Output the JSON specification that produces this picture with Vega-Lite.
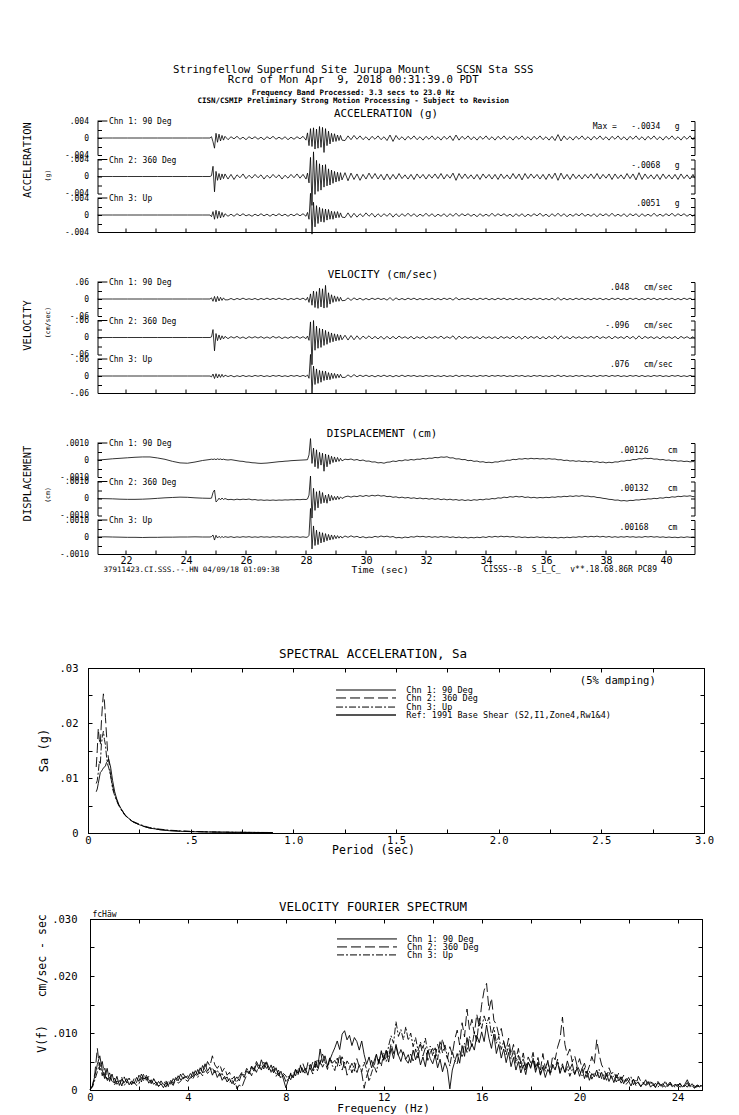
{
"$schema":"https://vega.github.io/schema/vega-lite/v6.json",
"padding":{"left":22,"top":64,"right":5,"bottom":5},
"title":{"text":["Stringfellow Superfund Site Jurupa Mount\u00a0\u00a0\u00a0\u00a0SCSN Sta SSS","Rcrd of Mon Apr\u00a0\u00a09, 2018 00:31:39.0 PDT"],"subtitle":["Frequency Band Processed: 3.3 secs to 23.0 Hz","CISN/CSMIP Preliminary Strong Motion Processing - Subject to Revision"],"fontSize":10.7,"lineHeight":9.5,"subtitleFontSize":7.5,"subtitleFontWeight":"bold","subtitleLineHeight":7.5,"subtitlePadding":4,"anchor":"middle","dx":-15,"offset":3},
"datasets":{
"seis":[
{"t":21.05,"a1":0,"a2":0,"a3":0,"v1":0,"v2":0,"v3":0,"d1":0,"d2":0,"d3":0},
{"t":21.3,"a1":0,"a2":0,"a3":0,"v1":0,"v2":0,"v3":0,"d1":0.00003,"d2":-0.00001,"d3":0.00001},
{"t":21.55,"a1":0,"a2":0,"a3":0,"v1":0,"v2":0,"v3":0,"d1":0.00007,"d2":-0.00002,"d3":0},
{"t":21.8,"a1":0,"a2":0,"a3":0,"v1":0,"v2":0,"v3":0,"d1":0.0001,"d2":-0.00004,"d3":-0.00001},
{"t":22.05,"a1":0,"a2":0,"a3":0,"v1":0,"v2":0,"v3":0,"d1":0.00013,"d2":-0.00005,"d3":-0.00002},
{"t":22.3,"a1":0,"a2":0,"a3":0,"v1":0,"v2":0,"v3":0,"d1":0.00016,"d2":-0.00005,"d3":-0.00002},
{"t":22.55,"a1":0,"a2":0,"a3":0,"v1":0,"v2":0,"v3":0,"d1":0.00018,"d2":-0.00004,"d3":-0.00003},
{"t":22.8,"a1":0,"a2":0,"a3":0,"v1":0,"v2":0,"v3":0,"d1":0.00018,"d2":-0.00002,"d3":-0.00002},
{"t":23.05,"a1":0,"a2":0,"a3":0,"v1":0,"v2":0,"v3":0,"d1":0.00012,"d2":0.00001,"d3":-0.00002},
{"t":23.3,"a1":0,"a2":0,"a3":0,"v1":0,"v2":0,"v3":0,"d1":0.00004,"d2":0.00004,"d3":-0.00001},
{"t":23.55,"a1":0,"a2":0,"a3":0,"v1":0,"v2":0,"v3":0,"d1":-0.00008,"d2":0.00006,"d3":-0.00001},
{"t":23.8,"a1":0,"a2":0,"a3":0,"v1":0,"v2":0,"v3":0,"d1":-0.00017,"d2":0.00008,"d3":0},
{"t":24.05,"a1":0,"a2":0,"a3":0,"v1":0,"v2":0,"v3":0,"d1":-0.00019,"d2":0.00007,"d3":0},
{"t":24.3,"a1":0,"a2":0,"a3":0,"v1":0,"v2":0,"v3":0,"d1":-0.00012,"d2":0.00004,"d3":0.00001},
{"t":24.55,"a1":0,"a2":0,"a3":0,"v1":0,"v2":0,"v3":0,"d1":-0.00003,"d2":0.00002,"d3":0},
{"t":24.8,"a1":0,"a2":0,"a3":0,"v1":0,"v2":0,"v3":0,"d1":0.00003,"d2":0.00001,"d3":0},
{"t":24.85,"a1":0.0003,"a2":0.0002,"a3":-0.0004,"v1":0.004,"v2":0.002,"v3":-0.003,"d1":0.00005,"d2":0.00002,"d3":0.00002},
{"t":24.9,"a1":-0.0009,"a2":0.0024,"a3":0.0008,"v1":-0.008,"v2":0.028,"v3":0.007,"d1":0.00003,"d2":0.00035,"d3":0.00012},
{"t":24.95,"a1":-0.0024,"a2":-0.0036,"a3":-0.001,"v1":0.009,"v2":-0.047,"v3":-0.009,"d1":0.00006,"d2":0.0005,"d3":-0.00018},
{"t":25,"a1":0.0011,"a2":0.0012,"a3":0.0011,"v1":-0.01,"v2":0.014,"v3":0.008,"d1":0.00002,"d2":-0.0002,"d3":0.0001},
{"t":25.05,"a1":-0.001,"a2":-0.0009,"a3":-0.0008,"v1":0.009,"v2":-0.011,"v3":-0.007,"d1":0.00007,"d2":-0.00012,"d3":-0.00006},
{"t":25.1,"a1":0.0009,"a2":0.0007,"a3":0.0009,"v1":-0.007,"v2":0.009,"v3":0.006,"d1":0.00003,"d2":0.00002,"d3":0.00004},
{"t":25.15,"a1":-0.0007,"a2":-0.0008,"a3":-0.0007,"v1":0.006,"v2":-0.008,"v3":-0.005,"d1":0.00006,"d2":-0.00008,"d3":-0.00004},
{"t":25.2,"a1":0.0006,"a2":0.0006,"a3":0.0006,"v1":-0.005,"v2":0.006,"v3":0.006,"d1":0.00002,"d2":0.00003,"d3":0.00003},
{"t":25.25,"a1":-0.0005,"a2":-0.0005,"a3":-0.0005,"v1":0.004,"v2":-0.005,"v3":-0.004,"d1":0.00005,"d2":-0.00006,"d3":-0.00003},
{"t":25.3,"a1":0.0004,"a2":0.0006,"a3":0.0003,"v1":-0.003,"v2":0.004,"v3":0.003,"d1":0.00002,"d2":0,"d3":0.00002},
{"t":25.4,"a1":-0.0004,"a2":-0.0006,"a3":-0.0003,"v1":-0.003,"v2":-0.004,"v3":-0.002,"d1":0,"d2":-0.00007,"d3":-0.00002},
{"t":25.5,"a1":0.0003,"a2":0.0005,"a3":0.0002,"v1":0.002,"v2":0.003,"v3":0.002,"d1":0.00002,"d2":-0.00005,"d3":0.00002},
{"t":25.6,"a1":-0.0002,"a2":-0.0007,"a3":-0.0003,"v1":-0.003,"v2":-0.002,"v3":-0.003,"d1":-0.00001,"d2":-0.00008,"d3":-0.00003},
{"t":25.7,"a1":0.0004,"a2":0.0004,"a3":0.0003,"v1":0.002,"v2":0.004,"v3":0.001,"d1":-0.00004,"d2":-0.00004,"d3":0.00001},
{"t":25.8,"a1":-0.0003,"a2":-0.0003,"a3":-0.0002,"v1":-0.002,"v2":-0.003,"v3":-0.002,"d1":-0.00007,"d2":-0.00007,"d3":-0.00002},
{"t":25.9,"a1":0.0002,"a2":0.0006,"a3":0.0003,"v1":0.003,"v2":0.002,"v3":0.002,"d1":-0.00008,"d2":-0.00004,"d3":0.00002},
{"t":26,"a1":-0.0004,"a2":-0.0005,"a3":-0.0002,"v1":-0.002,"v2":-0.004,"v3":-0.002,"d1":-0.00012,"d2":-0.00006,"d3":-0.00001},
{"t":26.1,"a1":0.0003,"a2":0.0003,"a3":0.0001,"v1":0.001,"v2":0.003,"v3":0.001,"d1":-0.00013,"d2":-0.00003,"d3":0.00002},
{"t":26.2,"a1":-0.0002,"a2":-0.0004,"a3":-0.0003,"v1":-0.002,"v2":-0.002,"v3":-0.002,"d1":-0.00016,"d2":-0.00008,"d3":-0.00002},
{"t":26.3,"a1":0.0003,"a2":0.0005,"a3":0.0002,"v1":0.002,"v2":0.003,"v3":0.002,"d1":-0.00017,"d2":-0.00006,"d3":0.00001},
{"t":26.4,"a1":-0.0003,"a2":-0.0003,"a3":-0.0002,"v1":-0.003,"v2":-0.002,"v3":-0.001,"d1":-0.00019,"d2":-0.0001,"d3":-0.00002},
{"t":26.5,"a1":0.0002,"a2":0.0004,"a3":0.0003,"v1":0.002,"v2":0.003,"v3":0.002,"d1":-0.0002,"d2":-0.00008,"d3":0.00002},
{"t":26.6,"a1":-0.0004,"a2":-0.0006,"a3":-0.0002,"v1":-0.002,"v2":-0.003,"v3":-0.002,"d1":-0.00019,"d2":-0.00011,"d3":-0.00001},
{"t":26.7,"a1":0.0003,"a2":0.0003,"a3":0.0002,"v1":0.003,"v2":0.002,"v3":0.001,"d1":-0.00018,"d2":-0.00009,"d3":0.00001},
{"t":26.8,"a1":-0.0002,"a2":-0.0004,"a3":-0.0003,"v1":-0.002,"v2":-0.003,"v3":-0.002,"d1":-0.00016,"d2":-0.00011,"d3":-0.00002},
{"t":26.9,"a1":0.0004,"a2":0.0005,"a3":0.0002,"v1":0.002,"v2":0.004,"v3":0.002,"d1":-0.00014,"d2":-0.00009,"d3":0.00002},
{"t":27,"a1":-0.0003,"a2":-0.0003,"a3":-0.0002,"v1":-0.002,"v2":-0.002,"v3":-0.001,"d1":-0.00012,"d2":-0.00011,"d3":-0.00001},
{"t":27.1,"a1":0.0002,"a2":0.0004,"a3":0.0003,"v1":0.003,"v2":0.003,"v3":0.002,"d1":-0.0001,"d2":-0.00009,"d3":0.00002},
{"t":27.2,"a1":-0.0003,"a2":-0.0006,"a3":-0.0002,"v1":-0.002,"v2":-0.004,"v3":-0.002,"d1":-0.00009,"d2":-0.0001,"d3":-0.00002},
{"t":27.3,"a1":0.0003,"a2":0.0003,"a3":0.0002,"v1":0.002,"v2":0.002,"v3":0.001,"d1":-0.00007,"d2":-0.00008,"d3":0.00001},
{"t":27.4,"a1":-0.0004,"a2":-0.0004,"a3":-0.0003,"v1":-0.003,"v2":-0.003,"v3":-0.002,"d1":-0.00006,"d2":-0.00009,"d3":-0.00002},
{"t":27.5,"a1":0.0002,"a2":0.0005,"a3":0.0002,"v1":0.002,"v2":0.003,"v3":0.002,"d1":-0.00004,"d2":-0.00007,"d3":0.00002},
{"t":27.6,"a1":-0.0003,"a2":-0.0003,"a3":-0.0002,"v1":-0.002,"v2":-0.002,"v3":-0.001,"d1":-0.00003,"d2":-0.00008,"d3":-0.00001},
{"t":27.7,"a1":0.0003,"a2":0.0006,"a3":0.0003,"v1":0.003,"v2":0.004,"v3":0.002,"d1":-0.00002,"d2":-0.00006,"d3":0.00002},
{"t":27.8,"a1":-0.0002,"a2":-0.0004,"a3":-0.0002,"v1":-0.002,"v2":-0.003,"v3":-0.002,"d1":-0.00001,"d2":-0.00007,"d3":-0.00002},
{"t":27.9,"a1":0.0004,"a2":0.0005,"a3":0.0003,"v1":0.003,"v2":0.003,"v3":0.002,"d1":0,"d2":-0.00005,"d3":0.00001},
{"t":28,"a1":-0.0005,"a2":-0.0006,"a3":-0.0003,"v1":-0.004,"v2":-0.004,"v3":-0.002,"d1":0.00001,"d2":-0.00006,"d3":-0.00002},
{"t":28.05,"a1":0.0012,"a2":0.0008,"a3":0.0006,"v1":0.006,"v2":0.005,"v3":0.004,"d1":0.00002,"d2":-0.00003,"d3":-0.00001},
{"t":28.1,"a1":-0.0018,"a2":-0.0015,"a3":-0.001,"v1":-0.012,"v2":-0.01,"v3":-0.008,"d1":0.0003,"d2":0.0002,"d3":0.0001},
{"t":28.15,"a1":0.0022,"a2":0.0045,"a3":0.0051,"v1":0.018,"v2":0.055,"v3":0.076,"d1":0.00126,"d2":0.00132,"d3":0.00168},
{"t":28.2,"a1":-0.002,"a2":-0.0068,"a3":-0.0045,"v1":-0.022,"v2":-0.096,"v3":-0.062,"d1":-0.0002,"d2":-0.00115,"d3":-0.0007},
{"t":28.25,"a1":0.0024,"a2":0.0058,"a3":0.003,"v1":0.028,"v2":0.06,"v3":0.035,"d1":0.0007,"d2":0.0006,"d3":0.00065},
{"t":28.3,"a1":-0.0026,"a2":-0.0042,"a3":-0.0028,"v1":-0.03,"v2":-0.045,"v3":-0.03,"d1":-0.0004,"d2":-0.0007,"d3":-0.0005},
{"t":28.35,"a1":0.0021,"a2":0.0038,"a3":0.0022,"v1":0.026,"v2":0.04,"v3":0.025,"d1":0.0006,"d2":0.0004,"d3":0.0004},
{"t":28.4,"a1":-0.0024,"a2":-0.0035,"a3":-0.002,"v1":-0.033,"v2":-0.038,"v3":-0.026,"d1":-0.0005,"d2":-0.00055,"d3":-0.00045},
{"t":28.45,"a1":0.0027,"a2":0.003,"a3":0.0018,"v1":0.038,"v2":0.032,"v3":0.02,"d1":0.00045,"d2":0.00045,"d3":0.0003},
{"t":28.5,"a1":-0.0022,"a2":-0.0032,"a3":-0.0016,"v1":-0.028,"v2":-0.035,"v3":-0.022,"d1":-0.0003,"d2":-0.0003,"d3":-0.00035},
{"t":28.55,"a1":0.0025,"a2":0.0027,"a3":0.0015,"v1":0.036,"v2":0.03,"v3":0.018,"d1":0.0004,"d2":0.00035,"d3":0.00025},
{"t":28.6,"a1":-0.0034,"a2":-0.0025,"a3":-0.0017,"v1":-0.032,"v2":-0.028,"v3":-0.016,"d1":-0.00066,"d2":-0.00025,"d3":-0.0003},
{"t":28.65,"a1":0.0022,"a2":0.0028,"a3":0.0014,"v1":0.048,"v2":0.025,"v3":0.017,"d1":0.00035,"d2":0.0002,"d3":0.0002},
{"t":28.7,"a1":-0.0018,"a2":-0.0022,"a3":-0.0012,"v1":-0.03,"v2":-0.024,"v3":-0.014,"d1":-0.0004,"d2":-0.00028,"d3":-0.00022},
{"t":28.75,"a1":0.0016,"a2":0.0018,"a3":0.0013,"v1":0.022,"v2":0.02,"v3":0.012,"d1":0.0003,"d2":0.00025,"d3":0.00015},
{"t":28.8,"a1":-0.0014,"a2":-0.002,"a3":-0.001,"v1":-0.018,"v2":-0.018,"v3":-0.013,"d1":-0.00025,"d2":-0.00015,"d3":-0.00018},
{"t":28.85,"a1":0.0011,"a2":0.0015,"a3":0.0009,"v1":0.015,"v2":0.016,"v3":0.01,"d1":0.00022,"d2":0.00018,"d3":0.00012},
{"t":28.9,"a1":-0.0009,"a2":-0.0016,"a3":-0.001,"v1":-0.012,"v2":-0.015,"v3":-0.009,"d1":-0.00015,"d2":-0.0001,"d3":-0.00014},
{"t":28.95,"a1":0.001,"a2":0.0012,"a3":0.0008,"v1":0.011,"v2":0.013,"v3":0.009,"d1":0.00018,"d2":0.00012,"d3":0.0001},
{"t":29,"a1":-0.0008,"a2":-0.0013,"a3":-0.0007,"v1":-0.009,"v2":-0.012,"v3":-0.008,"d1":-0.00012,"d2":-0.00008,"d3":-0.0001},
{"t":29.05,"a1":0.0007,"a2":0.001,"a3":0.0008,"v1":0.008,"v2":0.011,"v3":0.007,"d1":0.00015,"d2":0.00014,"d3":0.00008},
{"t":29.1,"a1":-0.0006,"a2":-0.0011,"a3":-0.0006,"v1":-0.008,"v2":-0.01,"v3":-0.006,"d1":-0.00008,"d2":-0.00005,"d3":-0.00007},
{"t":29.15,"a1":0.0006,"a2":0.0009,"a3":0.0005,"v1":0.006,"v2":0.009,"v3":0.006,"d1":0.0001,"d2":0.0001,"d3":0.00006},
{"t":29.2,"a1":-0.0005,"a2":-0.0008,"a3":-0.0005,"v1":-0.006,"v2":-0.008,"v3":-0.005,"d1":-0.00005,"d2":0,"d3":-0.00006},
{"t":29.3,"a1":-0.0006,"a2":0.0009,"a3":-0.0006,"v1":-0.005,"v2":0.008,"v3":-0.005,"d1":0.00005,"d2":0.0001,"d3":0.00006},
{"t":29.4,"a1":0.0005,"a2":-0.001,"a3":0.0005,"v1":0.004,"v2":-0.009,"v3":0.004,"d1":0.00002,"d2":0.00014,"d3":-0.00002},
{"t":29.5,"a1":-0.0004,"a2":0.0008,"a3":-0.0006,"v1":-0.005,"v2":0.007,"v3":-0.004,"d1":0.00006,"d2":0.00008,"d3":0.00007},
{"t":29.6,"a1":0.0006,"a2":-0.0007,"a3":0.0004,"v1":0.004,"v2":-0.008,"v3":0.005,"d1":-0.00001,"d2":0.00014,"d3":-0.00001},
{"t":29.7,"a1":-0.0003,"a2":0.0006,"a3":-0.0005,"v1":-0.003,"v2":0.006,"v3":-0.003,"d1":0.00003,"d2":0.00011,"d3":0.00004},
{"t":29.8,"a1":0.0005,"a2":-0.0009,"a3":0.0003,"v1":0.003,"v2":-0.007,"v3":0.003,"d1":-0.00004,"d2":0.00017,"d3":-0.00004},
{"t":29.9,"a1":-0.0004,"a2":0.0005,"a3":-0.0004,"v1":-0.004,"v2":0.005,"v3":-0.002,"d1":0,"d2":0.00012,"d3":0.00002},
{"t":30,"a1":0.0003,"a2":-0.0006,"a3":0.0005,"v1":0.002,"v2":-0.004,"v3":0.003,"d1":-0.00007,"d2":0.00018,"d3":-0.00005},
{"t":30.1,"a1":-0.0005,"a2":0.0008,"a3":-0.0003,"v1":-0.003,"v2":0.006,"v3":-0.002,"d1":-0.00006,"d2":0.00013,"d3":0},
{"t":30.2,"a1":0.0004,"a2":-0.0005,"a3":0.0004,"v1":0.003,"v2":-0.005,"v3":0.002,"d1":-0.00012,"d2":0.00019,"d3":-0.00003},
{"t":30.3,"a1":-0.0003,"a2":0.0007,"a3":-0.0005,"v1":-0.002,"v2":0.004,"v3":-0.003,"d1":-0.00011,"d2":0.00015,"d3":0.00004},
{"t":30.4,"a1":0.0005,"a2":-0.0006,"a3":0.0003,"v1":0.003,"v2":-0.005,"v3":0.002,"d1":-0.00017,"d2":0.0002,"d3":-0.00001},
{"t":30.5,"a1":-0.0004,"a2":0.0005,"a3":-0.0004,"v1":-0.002,"v2":0.004,"v3":-0.002,"d1":-0.00015,"d2":0.00014,"d3":0.00006},
{"t":30.6,"a1":0.0003,"a2":-0.0008,"a3":0.0003,"v1":0.002,"v2":-0.006,"v3":0.003,"d1":-0.00019,"d2":0.00017,"d3":0.00001},
{"t":30.7,"a1":-0.0006,"a2":0.0006,"a3":-0.0003,"v1":-0.004,"v2":0.004,"v3":-0.002,"d1":-0.00013,"d2":0.00011,"d3":0.00005},
{"t":30.8,"a1":0.0007,"a2":-0.0007,"a3":0.0004,"v1":0.005,"v2":-0.005,"v3":0.002,"d1":-0.00012,"d2":0.00013,"d3":-0.00001},
{"t":30.9,"a1":-0.0008,"a2":0.0005,"a3":-0.0005,"v1":-0.005,"v2":0.004,"v3":-0.003,"d1":-0.00006,"d2":0.00007,"d3":0.00003},
{"t":31,"a1":0.0006,"a2":-0.0006,"a3":0.0003,"v1":0.004,"v2":-0.005,"v3":0.002,"d1":-0.00009,"d2":0.0001,"d3":-0.00005},
{"t":31.1,"a1":-0.0004,"a2":0.0007,"a3":-0.0004,"v1":-0.003,"v2":0.005,"v3":-0.002,"d1":-0.00003,"d2":0.00004,"d3":-0.00002},
{"t":31.2,"a1":0.0003,"a2":-0.0005,"a3":0.0003,"v1":0.002,"v2":-0.003,"v3":0.003,"d1":-0.00005,"d2":0.00008,"d3":-0.00006},
{"t":31.3,"a1":-0.0005,"a2":0.0004,"a3":-0.0003,"v1":-0.003,"v2":0.003,"v3":-0.002,"d1":0.00001,"d2":0.00003,"d3":0},
{"t":31.4,"a1":0.0004,"a2":-0.0006,"a3":0.0004,"v1":0.003,"v2":-0.004,"v3":0.002,"d1":-0.00002,"d2":0.00006,"d3":-0.00004},
{"t":31.5,"a1":-0.0003,"a2":0.0005,"a3":-0.0003,"v1":-0.002,"v2":0.004,"v3":-0.001,"d1":0.00003,"d2":0.00001,"d3":0.00002},
{"t":31.6,"a1":0.0005,"a2":-0.0007,"a3":0.0003,"v1":0.003,"v2":-0.005,"v3":0.002,"d1":0,"d2":0.00004,"d3":-0.00001},
{"t":31.7,"a1":-0.0004,"a2":0.0006,"a3":-0.0004,"v1":-0.003,"v2":0.003,"v3":-0.002,"d1":0.00005,"d2":-0.00001,"d3":0.00005},
{"t":31.8,"a1":0.0003,"a2":-0.0004,"a3":0.0002,"v1":0.002,"v2":-0.003,"v3":0.001,"d1":0.00004,"d2":0.00003,"d3":0.00001},
{"t":31.9,"a1":-0.0005,"a2":0.0005,"a3":-0.0003,"v1":-0.003,"v2":0.004,"v3":-0.002,"d1":0.00009,"d2":-0.00002,"d3":0.00004},
{"t":32,"a1":0.0004,"a2":-0.0006,"a3":0.0004,"v1":0.002,"v2":-0.005,"v3":0.002,"d1":0.00006,"d2":0.00001,"d3":-0.00001},
{"t":32.1,"a1":-0.0003,"a2":0.0005,"a3":-0.0003,"v1":-0.002,"v2":0.003,"v3":-0.001,"d1":0.00011,"d2":-0.00004,"d3":0.00003},
{"t":32.2,"a1":0.0005,"a2":-0.0004,"a3":0.0003,"v1":0.003,"v2":-0.003,"v3":0.002,"d1":0.0001,"d2":0,"d3":-0.00002},
{"t":32.3,"a1":-0.0004,"a2":0.0006,"a3":-0.0004,"v1":-0.003,"v2":0.004,"v3":-0.002,"d1":0.00015,"d2":-0.00005,"d3":0.00002},
{"t":32.4,"a1":0.0003,"a2":-0.0005,"a3":0.0002,"v1":0.002,"v2":-0.003,"v3":0.001,"d1":0.00013,"d2":-0.00001,"d3":-0.00002},
{"t":32.5,"a1":-0.0005,"a2":0.0007,"a3":-0.0003,"v1":-0.003,"v2":0.005,"v3":-0.002,"d1":0.00018,"d2":-0.00007,"d3":0.00003},
{"t":32.6,"a1":0.0004,"a2":-0.0006,"a3":0.0003,"v1":0.003,"v2":-0.004,"v3":0.002,"d1":0.00016,"d2":-0.00003,"d3":-0.00001},
{"t":32.7,"a1":-0.0003,"a2":0.0005,"a3":-0.0004,"v1":-0.002,"v2":0.003,"v3":-0.002,"d1":0.00019,"d2":-0.00008,"d3":0.00002},
{"t":32.8,"a1":0.0005,"a2":-0.0004,"a3":0.0003,"v1":0.003,"v2":-0.003,"v3":0.001,"d1":0.00012,"d2":-0.00004,"d3":-0.00003},
{"t":32.9,"a1":-0.0006,"a2":0.0008,"a3":-0.0003,"v1":-0.004,"v2":0.006,"v3":-0.002,"d1":0.00013,"d2":-0.00009,"d3":0.00001},
{"t":33,"a1":0.0007,"a2":-0.0009,"a3":0.0004,"v1":0.005,"v2":-0.007,"v3":0.003,"d1":0.00006,"d2":-0.00006,"d3":-0.00004},
{"t":33.1,"a1":-0.0005,"a2":0.0007,"a3":-0.0003,"v1":-0.003,"v2":0.005,"v3":-0.002,"d1":0.00007,"d2":-0.00011,"d3":0},
{"t":33.2,"a1":0.0004,"a2":-0.0005,"a3":0.0003,"v1":0.002,"v2":-0.004,"v3":0.002,"d1":0.00002,"d2":-0.00007,"d3":-0.00005},
{"t":33.3,"a1":-0.0003,"a2":0.0006,"a3":-0.0002,"v1":-0.002,"v2":0.004,"v3":-0.001,"d1":0.00003,"d2":-0.00012,"d3":-0.00001},
{"t":33.4,"a1":0.0005,"a2":-0.0005,"a3":0.0003,"v1":0.003,"v2":-0.003,"v3":0.002,"d1":-0.00004,"d2":-0.00008,"d3":-0.00006},
{"t":33.5,"a1":-0.0004,"a2":0.0004,"a3":-0.0003,"v1":-0.003,"v2":0.003,"v3":-0.002,"d1":-0.00002,"d2":-0.00012,"d3":-0.00002},
{"t":33.6,"a1":0.0003,"a2":-0.0006,"a3":0.0002,"v1":0.002,"v2":-0.004,"v3":0.001,"d1":-0.00008,"d2":-0.00007,"d3":-0.00005},
{"t":33.7,"a1":-0.0005,"a2":0.0005,"a3":-0.0004,"v1":-0.003,"v2":0.003,"v3":-0.002,"d1":-0.00006,"d2":-0.0001,"d3":-0.00001},
{"t":33.8,"a1":0.0004,"a2":-0.0007,"a3":0.0003,"v1":0.003,"v2":-0.005,"v3":0.002,"d1":-0.00012,"d2":-0.00005,"d3":-0.00004},
{"t":33.9,"a1":-0.0003,"a2":0.0006,"a3":-0.0003,"v1":-0.002,"v2":0.004,"v3":-0.001,"d1":-0.0001,"d2":-0.00008,"d3":0.00001},
{"t":34,"a1":0.0005,"a2":-0.0004,"a3":0.0002,"v1":0.003,"v2":-0.003,"v3":0.002,"d1":-0.00015,"d2":-0.00003,"d3":-0.00003},
{"t":34.1,"a1":-0.0004,"a2":0.0005,"a3":-0.0003,"v1":-0.003,"v2":0.003,"v3":-0.002,"d1":-0.00013,"d2":-0.00005,"d3":0.00003},
{"t":34.2,"a1":0.0003,"a2":-0.0006,"a3":0.0004,"v1":0.002,"v2":-0.004,"v3":0.002,"d1":-0.00016,"d2":0,"d3":-0.00001},
{"t":34.3,"a1":-0.0005,"a2":0.0005,"a3":-0.0003,"v1":-0.003,"v2":0.003,"v3":-0.001,"d1":-0.00011,"d2":-0.00002,"d3":0.00004},
{"t":34.4,"a1":0.0004,"a2":-0.0007,"a3":0.0003,"v1":0.003,"v2":-0.005,"v3":0.002,"d1":-0.00012,"d2":0.00004,"d3":0},
{"t":34.5,"a1":-0.0003,"a2":0.0006,"a3":-0.0002,"v1":-0.002,"v2":0.004,"v3":-0.001,"d1":-0.00006,"d2":0.00002,"d3":0.00005},
{"t":34.6,"a1":0.0005,"a2":-0.0005,"a3":0.0003,"v1":0.003,"v2":-0.003,"v3":0.002,"d1":-0.00007,"d2":0.00008,"d3":0.00001},
{"t":34.7,"a1":-0.0004,"a2":0.0004,"a3":-0.0003,"v1":-0.003,"v2":0.003,"v3":-0.002,"d1":-0.00001,"d2":0.00005,"d3":0.00004},
{"t":34.8,"a1":0.0003,"a2":-0.0006,"a3":0.0002,"v1":0.002,"v2":-0.004,"v3":0.001,"d1":-0.00002,"d2":0.00011,"d3":0},
{"t":34.9,"a1":-0.0005,"a2":0.0007,"a3":-0.0004,"v1":-0.003,"v2":0.005,"v3":-0.002,"d1":0.00004,"d2":0.00008,"d3":0.00003},
{"t":35,"a1":0.0004,"a2":-0.0005,"a3":0.0003,"v1":0.003,"v2":-0.004,"v3":0.002,"d1":0.00002,"d2":0.00013,"d3":-0.00002},
{"t":35.1,"a1":-0.0003,"a2":0.0006,"a3":-0.0003,"v1":-0.002,"v2":0.004,"v3":-0.001,"d1":0.00007,"d2":0.00009,"d3":0.00001},
{"t":35.2,"a1":0.0005,"a2":-0.0008,"a3":0.0003,"v1":0.003,"v2":-0.006,"v3":0.002,"d1":0.00005,"d2":0.00012,"d3":-0.00003},
{"t":35.3,"a1":-0.0004,"a2":0.0007,"a3":-0.0004,"v1":-0.003,"v2":0.005,"v3":-0.002,"d1":0.00009,"d2":0.00006,"d3":0},
{"t":35.4,"a1":0.0003,"a2":-0.0005,"a3":0.0002,"v1":0.002,"v2":-0.004,"v3":0.001,"d1":0.00006,"d2":0.00009,"d3":-0.00004},
{"t":35.5,"a1":-0.0005,"a2":0.0006,"a3":-0.0003,"v1":-0.003,"v2":0.004,"v3":-0.002,"d1":0.0001,"d2":0.00004,"d3":-0.00001},
{"t":35.6,"a1":0.0004,"a2":-0.0004,"a3":0.0003,"v1":0.003,"v2":-0.003,"v3":0.002,"d1":0.00007,"d2":0.00007,"d3":-0.00003},
{"t":35.7,"a1":-0.0003,"a2":0.0005,"a3":-0.0002,"v1":-0.002,"v2":0.004,"v3":-0.001,"d1":0.00009,"d2":0.00003,"d3":0.00001},
{"t":35.8,"a1":0.0005,"a2":-0.0006,"a3":0.0004,"v1":0.003,"v2":-0.005,"v3":0.002,"d1":0.00006,"d2":0.00006,"d3":-0.00003},
{"t":35.9,"a1":-0.0004,"a2":0.0005,"a3":-0.0003,"v1":-0.003,"v2":0.003,"v3":-0.002,"d1":0.00008,"d2":0.00004,"d3":0},
{"t":36,"a1":0.0003,"a2":-0.0007,"a3":0.0002,"v1":0.002,"v2":-0.005,"v3":0.001,"d1":0.00005,"d2":0.00007,"d3":-0.00004},
{"t":36.1,"a1":-0.0005,"a2":0.0006,"a3":-0.0004,"v1":-0.003,"v2":0.004,"v3":-0.002,"d1":0.00008,"d2":0.00005,"d3":-0.00001},
{"t":36.2,"a1":0.0004,"a2":-0.0005,"a3":0.0003,"v1":0.003,"v2":-0.004,"v3":0.002,"d1":0.00005,"d2":0.00009,"d3":-0.00005},
{"t":36.3,"a1":-0.0006,"a2":0.0008,"a3":-0.0003,"v1":-0.004,"v2":0.006,"v3":-0.002,"d1":0.00006,"d2":0.00007,"d3":-0.00002},
{"t":36.4,"a1":0.0008,"a2":-0.0009,"a3":0.0004,"v1":0.005,"v2":-0.006,"v3":0.003,"d1":0.00001,"d2":0.00011,"d3":-0.00006},
{"t":36.5,"a1":-0.0007,"a2":0.0008,"a3":-0.0003,"v1":-0.004,"v2":0.006,"v3":-0.002,"d1":0.00002,"d2":0.00009,"d3":-0.00002},
{"t":36.6,"a1":0.0005,"a2":-0.0006,"a3":0.0003,"v1":0.003,"v2":-0.004,"v3":0.002,"d1":-0.00003,"d2":0.00013,"d3":-0.00005},
{"t":36.7,"a1":-0.0004,"a2":0.0005,"a3":-0.0004,"v1":-0.003,"v2":0.003,"v3":-0.002,"d1":-0.00001,"d2":0.00011,"d3":-0.00001},
{"t":36.8,"a1":0.0003,"a2":-0.0007,"a3":0.0002,"v1":0.002,"v2":-0.005,"v3":0.001,"d1":-0.00006,"d2":0.00015,"d3":-0.00004},
{"t":36.9,"a1":-0.0005,"a2":0.0006,"a3":-0.0003,"v1":-0.003,"v2":0.004,"v3":-0.002,"d1":-0.00004,"d2":0.00012,"d3":0},
{"t":37,"a1":0.0004,"a2":-0.0005,"a3":0.0003,"v1":0.003,"v2":-0.003,"v3":0.002,"d1":-0.00008,"d2":0.00016,"d3":-0.00002},
{"t":37.1,"a1":-0.0003,"a2":0.0004,"a3":-0.0002,"v1":-0.002,"v2":0.003,"v3":-0.001,"d1":-0.00005,"d2":0.00013,"d3":0.00002},
{"t":37.2,"a1":0.0005,"a2":-0.0006,"a3":0.0004,"v1":0.003,"v2":-0.004,"v3":0.002,"d1":-0.00009,"d2":0.00017,"d3":-0.00001},
{"t":37.3,"a1":-0.0004,"a2":0.0005,"a3":-0.0003,"v1":-0.003,"v2":0.003,"v3":-0.002,"d1":-0.00007,"d2":0.00013,"d3":0.00004},
{"t":37.4,"a1":0.0003,"a2":-0.0004,"a3":0.0002,"v1":0.002,"v2":-0.003,"v3":0.001,"d1":-0.00011,"d2":0.00014,"d3":0},
{"t":37.5,"a1":-0.0005,"a2":0.0006,"a3":-0.0003,"v1":-0.003,"v2":0.004,"v3":-0.002,"d1":-0.00008,"d2":0.0001,"d3":0.00004},
{"t":37.6,"a1":0.0004,"a2":-0.0005,"a3":0.0003,"v1":0.003,"v2":-0.003,"v3":0.002,"d1":-0.00013,"d2":0.00011,"d3":0.00001},
{"t":37.7,"a1":-0.0003,"a2":0.0007,"a3":-0.0004,"v1":-0.002,"v2":0.005,"v3":-0.002,"d1":-0.0001,"d2":0.00006,"d3":0.00005},
{"t":37.8,"a1":0.0005,"a2":-0.0006,"a3":0.0003,"v1":0.003,"v2":-0.004,"v3":0.002,"d1":-0.00015,"d2":0.00005,"d3":0},
{"t":37.9,"a1":-0.0004,"a2":0.0005,"a3":-0.0002,"v1":-0.003,"v2":0.003,"v3":-0.001,"d1":-0.00012,"d2":0.00001,"d3":0.00004},
{"t":38,"a1":0.0003,"a2":-0.0004,"a3":0.0003,"v1":0.002,"v2":-0.003,"v3":0.002,"d1":-0.00017,"d2":-0.00001,"d3":-0.00001},
{"t":38.1,"a1":-0.0005,"a2":0.0006,"a3":-0.0003,"v1":-0.003,"v2":0.004,"v3":-0.002,"d1":-0.00013,"d2":-0.00005,"d3":0.00003},
{"t":38.2,"a1":0.0004,"a2":-0.0007,"a3":0.0004,"v1":0.003,"v2":-0.005,"v3":0.002,"d1":-0.00016,"d2":-0.00006,"d3":-0.00002},
{"t":38.3,"a1":-0.0003,"a2":0.0006,"a3":-0.0003,"v1":-0.002,"v2":0.004,"v3":-0.001,"d1":-0.00011,"d2":-0.0001,"d3":0.00002},
{"t":38.4,"a1":0.0005,"a2":-0.0005,"a3":0.0002,"v1":0.003,"v2":-0.003,"v3":0.002,"d1":-0.00012,"d2":-0.00009,"d3":-0.00002},
{"t":38.5,"a1":-0.0004,"a2":0.0004,"a3":-0.0003,"v1":-0.003,"v2":0.003,"v3":-0.002,"d1":-0.00006,"d2":-0.00014,"d3":0.00002},
{"t":38.6,"a1":0.0003,"a2":-0.0006,"a3":0.0003,"v1":0.002,"v2":-0.004,"v3":0.001,"d1":-0.00007,"d2":-0.00012,"d3":-0.00001},
{"t":38.7,"a1":-0.0005,"a2":0.0007,"a3":-0.0004,"v1":-0.003,"v2":0.005,"v3":-0.002,"d1":-0.00002,"d2":-0.00015,"d3":0.00003},
{"t":38.8,"a1":0.0004,"a2":-0.0005,"a3":0.0003,"v1":0.003,"v2":-0.004,"v3":0.002,"d1":-0.00003,"d2":-0.00011,"d3":-0.00001},
{"t":38.9,"a1":-0.0003,"a2":0.0006,"a3":-0.0002,"v1":-0.002,"v2":0.004,"v3":-0.001,"d1":0.00003,"d2":-0.00012,"d3":0.00002},
{"t":39,"a1":0.0005,"a2":-0.0008,"a3":0.0003,"v1":0.003,"v2":-0.006,"v3":0.002,"d1":0.00002,"d2":-0.00008,"d3":-0.00002},
{"t":39.1,"a1":-0.0004,"a2":0.0009,"a3":-0.0004,"v1":-0.003,"v2":0.006,"v3":-0.002,"d1":0.00008,"d2":-0.00009,"d3":0.00001},
{"t":39.2,"a1":0.0003,"a2":-0.0007,"a3":0.0003,"v1":0.002,"v2":-0.005,"v3":0.002,"d1":0.00006,"d2":-0.00005,"d3":-0.00002},
{"t":39.3,"a1":-0.0005,"a2":0.0006,"a3":-0.0003,"v1":-0.003,"v2":0.004,"v3":-0.002,"d1":0.00011,"d2":-0.00006,"d3":0.00003},
{"t":39.4,"a1":0.0004,"a2":-0.0005,"a3":0.0002,"v1":0.003,"v2":-0.003,"v3":0.001,"d1":0.00008,"d2":-0.00002,"d3":0},
{"t":39.5,"a1":-0.0003,"a2":0.0004,"a3":-0.0003,"v1":-0.002,"v2":0.003,"v3":-0.002,"d1":0.0001,"d2":-0.00003,"d3":0.00003},
{"t":39.6,"a1":0.0005,"a2":-0.0006,"a3":0.0004,"v1":0.003,"v2":-0.004,"v3":0.002,"d1":0.00005,"d2":0.00001,"d3":-0.00001},
{"t":39.7,"a1":-0.0004,"a2":0.0005,"a3":-0.0003,"v1":-0.003,"v2":0.003,"v3":-0.001,"d1":0.00006,"d2":-0.00001,"d3":0.00002},
{"t":39.8,"a1":0.0003,"a2":-0.0007,"a3":0.0002,"v1":0.002,"v2":-0.005,"v3":0.002,"d1":0.00001,"d2":0.00004,"d3":-0.00002},
{"t":39.9,"a1":-0.0005,"a2":0.0006,"a3":-0.0003,"v1":-0.003,"v2":0.004,"v3":-0.002,"d1":0.00003,"d2":0.00002,"d3":0.00001},
{"t":40,"a1":0.0004,"a2":-0.0005,"a3":0.0003,"v1":0.003,"v2":-0.003,"v3":0.001,"d1":-0.00002,"d2":0.00007,"d3":-0.00003},
{"t":40.1,"a1":-0.0003,"a2":0.0004,"a3":-0.0002,"v1":-0.002,"v2":0.003,"v3":-0.002,"d1":0,"d2":0.00005,"d3":0},
{"t":40.2,"a1":0.0005,"a2":-0.0006,"a3":0.0004,"v1":0.003,"v2":-0.004,"v3":0.002,"d1":-0.00005,"d2":0.0001,"d3":-0.00003},
{"t":40.3,"a1":-0.0004,"a2":0.0005,"a3":-0.0003,"v1":-0.003,"v2":0.004,"v3":-0.001,"d1":-0.00003,"d2":0.00008,"d3":-0.00001},
{"t":40.4,"a1":0.0003,"a2":-0.0007,"a3":0.0003,"v1":0.002,"v2":-0.005,"v3":0.002,"d1":-0.00007,"d2":0.00013,"d3":-0.00004},
{"t":40.5,"a1":-0.0005,"a2":0.0006,"a3":-0.0002,"v1":-0.003,"v2":0.004,"v3":-0.002,"d1":-0.00005,"d2":0.00011,"d3":0},
{"t":40.6,"a1":0.0004,"a2":-0.0005,"a3":0.0003,"v1":0.003,"v2":-0.003,"v3":0.001,"d1":-0.00009,"d2":0.00015,"d3":-0.00003},
{"t":40.7,"a1":-0.0003,"a2":0.0004,"a3":-0.0003,"v1":-0.002,"v2":0.003,"v3":-0.002,"d1":-0.00007,"d2":0.00013,"d3":0.00001},
{"t":40.8,"a1":0.0005,"a2":-0.0006,"a3":0.0002,"v1":0.003,"v2":-0.004,"v3":0.002,"d1":-0.00011,"d2":0.00016,"d3":-0.00002},
{"t":40.9,"a1":-0.0004,"a2":0.0005,"a3":-0.0003,"v1":-0.003,"v2":0.003,"v3":-0.001,"d1":-0.00009,"d2":0.00011,"d3":0},
{"t":40.95,"a1":0.0003,"a2":-0.0004,"a3":0.0002,"v1":0.002,"v2":-0.003,"v3":0.001,"d1":-0.0001,"d2":0.00012,"d3":-0.00001}
],
"sa":[
{"p":0.04,"c1":0.0075,"c2":0.012,"c3":0.009},
{"p":0.045,"c1":0.008,"c2":0.015,"c3":0.0095},
{"p":0.05,"c1":0.009,"c2":0.019,"c3":0.011},
{"p":0.055,"c1":0.01,"c2":0.017,"c3":0.013},
{"p":0.06,"c1":0.011,"c2":0.016,"c3":0.0125},
{"p":0.065,"c1":0.0112,"c2":0.02,"c3":0.016},
{"p":0.07,"c1":0.0115,"c2":0.023,"c3":0.0175},
{"p":0.075,"c1":0.0118,"c2":0.0253,"c3":0.0185},
{"p":0.08,"c1":0.012,"c2":0.024,"c3":0.017},
{"p":0.085,"c1":0.0122,"c2":0.021,"c3":0.016},
{"p":0.09,"c1":0.0128,"c2":0.018,"c3":0.014},
{"p":0.095,"c1":0.013,"c2":0.015,"c3":0.0125},
{"p":0.1,"c1":0.0135,"c2":0.0135,"c3":0.012},
{"p":0.11,"c1":0.012,"c2":0.0105,"c3":0.0105},
{"p":0.12,"c1":0.0095,"c2":0.0085,"c3":0.008},
{"p":0.13,"c1":0.0075,"c2":0.007,"c3":0.0068},
{"p":0.14,"c1":0.0062,"c2":0.006,"c3":0.0058},
{"p":0.15,"c1":0.0052,"c2":0.005,"c3":0.005},
{"p":0.16,"c1":0.0045,"c2":0.0044,"c3":0.0043},
{"p":0.18,"c1":0.0033,"c2":0.0033,"c3":0.0032},
{"p":0.2,"c1":0.0026,"c2":0.0025,"c3":0.0026},
{"p":0.22,"c1":0.002,"c2":0.002,"c3":0.0021},
{"p":0.25,"c1":0.0015,"c2":0.0015,"c3":0.0016},
{"p":0.28,"c1":0.0011,"c2":0.0011,"c3":0.0012},
{"p":0.3,"c1":0.0009,"c2":0.0009,"c3":0.001},
{"p":0.35,"c1":0.0006,"c2":0.0006,"c3":0.0007},
{"p":0.4,"c1":0.0004,"c2":0.00045,"c3":0.0005},
{"p":0.45,"c1":0.0003,"c2":0.00035,"c3":0.0004},
{"p":0.5,"c1":0.00025,"c2":0.00027,"c3":0.0003},
{"p":0.6,"c1":0.00017,"c2":0.00018,"c3":0.0002},
{"p":0.7,"c1":0.00012,"c2":0.00013,"c3":0.00015},
{"p":0.8,"c1":0.0001,"c2":0.0001,"c3":0.00011},
{"p":0.9,"c1":0.00008,"c2":0.00008,"c3":0.00009}
],
"fs":[
{"f":0,"f1":0.0001,"f2":0.0001,"f3":0.0001},
{"f":0.1,"f1":0.0008,"f2":0.0006,"f3":0.0005},
{"f":0.2,"f1":0.0025,"f2":0.003,"f3":0.0018},
{"f":0.3,"f1":0.0045,"f2":0.0073,"f3":0.0032},
{"f":0.4,"f1":0.006,"f2":0.0035,"f3":0.0048},
{"f":0.5,"f1":0.0035,"f2":0.005,"f3":0.0025},
{"f":0.6,"f1":0.002,"f2":0.0025,"f3":0.004},
{"f":0.7,"f1":0.0038,"f2":0.0018,"f3":0.0016},
{"f":0.8,"f1":0.0015,"f2":0.003,"f3":0.0022},
{"f":0.9,"f1":0.0028,"f2":0.0014,"f3":0.0018},
{"f":1,"f1":0.0012,"f2":0.0021,"f3":0.0009},
{"f":1.1,"f1":0.0024,"f2":0.001,"f3":0.0016},
{"f":1.2,"f1":0.0008,"f2":0.0018,"f3":0.0013},
{"f":1.3,"f1":0.0019,"f2":0.0007,"f3":0.0022},
{"f":1.4,"f1":0.0013,"f2":0.0023,"f3":0.0008},
{"f":1.5,"f1":0.002,"f2":0.0012,"f3":0.0015},
{"f":1.6,"f1":0.0009,"f2":0.0017,"f3":0.0021},
{"f":1.7,"f1":0.0016,"f2":0.0009,"f3":0.001},
{"f":1.8,"f1":0.0011,"f2":0.002,"f3":0.0014},
{"f":1.9,"f1":0.0022,"f2":0.0013,"f3":0.0008},
{"f":2,"f1":0.0015,"f2":0.0026,"f3":0.0011},
{"f":2.1,"f1":0.0028,"f2":0.0014,"f3":0.0022},
{"f":2.2,"f1":0.0019,"f2":0.003,"f3":0.0016},
{"f":2.3,"f1":0.0023,"f2":0.0017,"f3":0.0026},
{"f":2.4,"f1":0.0012,"f2":0.0024,"f3":0.0018},
{"f":2.5,"f1":0.0018,"f2":0.0011,"f3":0.0013},
{"f":2.6,"f1":0.001,"f2":0.0019,"f3":0.002},
{"f":2.7,"f1":0.0014,"f2":0.0008,"f3":0.0012},
{"f":2.8,"f1":0.0006,"f2":0.0015,"f3":0.0007},
{"f":2.9,"f1":0.0011,"f2":0.0009,"f3":0.0016},
{"f":3,"f1":0.0004,"f2":0.0012,"f3":0.0009},
{"f":3.1,"f1":0.0013,"f2":0.0005,"f3":0.0017},
{"f":3.2,"f1":0.0008,"f2":0.0016,"f3":0.0006},
{"f":3.3,"f1":0.0017,"f2":0.001,"f3":0.0014},
{"f":3.4,"f1":0.0011,"f2":0.002,"f3":0.0008},
{"f":3.5,"f1":0.0022,"f2":0.0014,"f3":0.0019},
{"f":3.6,"f1":0.0016,"f2":0.0025,"f3":0.0012},
{"f":3.7,"f1":0.0028,"f2":0.0018,"f3":0.0015},
{"f":3.8,"f1":0.0019,"f2":0.0029,"f3":0.0023},
{"f":3.9,"f1":0.0024,"f2":0.0022,"f3":0.0018},
{"f":4,"f1":0.002,"f2":0.0025,"f3":0.0015},
{"f":4.1,"f1":0.0029,"f2":0.0019,"f3":0.0024},
{"f":4.2,"f1":0.0023,"f2":0.0032,"f3":0.0019},
{"f":4.3,"f1":0.0034,"f2":0.0024,"f3":0.0028},
{"f":4.4,"f1":0.0026,"f2":0.0036,"f3":0.0022},
{"f":4.5,"f1":0.0039,"f2":0.0028,"f3":0.0031},
{"f":4.6,"f1":0.003,"f2":0.0043,"f3":0.0025},
{"f":4.7,"f1":0.0046,"f2":0.0035,"f3":0.0036},
{"f":4.8,"f1":0.0033,"f2":0.005,"f3":0.0029},
{"f":4.9,"f1":0.004,"f2":0.0042,"f3":0.0034},
{"f":5,"f1":0.0026,"f2":0.006,"f3":0.0039},
{"f":5.1,"f1":0.0035,"f2":0.0044,"f3":0.003},
{"f":5.2,"f1":0.0022,"f2":0.0038,"f3":0.0035},
{"f":5.3,"f1":0.003,"f2":0.0045,"f3":0.0025},
{"f":5.4,"f1":0.0017,"f2":0.0032,"f3":0.0029},
{"f":5.5,"f1":0.0024,"f2":0.0039,"f3":0.0018},
{"f":5.6,"f1":0.0014,"f2":0.0026,"f3":0.0023},
{"f":5.7,"f1":0.002,"f2":0.0031,"f3":0.0013},
{"f":5.8,"f1":0.0011,"f2":0.0019,"f3":0.0018},
{"f":5.9,"f1":0.0017,"f2":0.0024,"f3":0.0009},
{"f":6,"f1":0.0023,"f2":0.0002,"f3":0.0015},
{"f":6.1,"f1":0.0016,"f2":0.0009,"f3":0.0024},
{"f":6.2,"f1":0.0029,"f2":0.0004,"f3":0.0031},
{"f":6.3,"f1":0.0022,"f2":0.0016,"f3":0.0026},
{"f":6.4,"f1":0.0034,"f2":0.0026,"f3":0.0038},
{"f":6.5,"f1":0.0028,"f2":0.0033,"f3":0.0031},
{"f":6.6,"f1":0.004,"f2":0.0025,"f3":0.0042},
{"f":6.7,"f1":0.0033,"f2":0.0039,"f3":0.0036},
{"f":6.8,"f1":0.0046,"f2":0.0031,"f3":0.005},
{"f":6.9,"f1":0.0037,"f2":0.0044,"f3":0.0041},
{"f":7,"f1":0.0053,"f2":0.0035,"f3":0.0045},
{"f":7.1,"f1":0.0041,"f2":0.0049,"f3":0.0037},
{"f":7.2,"f1":0.0048,"f2":0.0038,"f3":0.0051},
{"f":7.3,"f1":0.0035,"f2":0.0042,"f3":0.004},
{"f":7.4,"f1":0.0044,"f2":0.0031,"f3":0.0034},
{"f":7.5,"f1":0.003,"f2":0.0036,"f3":0.0042},
{"f":7.6,"f1":0.0039,"f2":0.0024,"f3":0.0028},
{"f":7.7,"f1":0.0025,"f2":0.003,"f3":0.0035},
{"f":7.8,"f1":0.0033,"f2":0.0019,"f3":0.0022},
{"f":7.9,"f1":0.0019,"f2":0.0026,"f3":0.0029},
{"f":8,"f1":0.0004,"f2":0.0015,"f3":0.0025},
{"f":8.1,"f1":0.0018,"f2":0.0024,"f3":0.0016},
{"f":8.2,"f1":0.0028,"f2":0.0018,"f3":0.003},
{"f":8.3,"f1":0.0021,"f2":0.0032,"f3":0.0022},
{"f":8.4,"f1":0.0036,"f2":0.0025,"f3":0.0037},
{"f":8.5,"f1":0.0029,"f2":0.004,"f3":0.0027},
{"f":8.6,"f1":0.0042,"f2":0.003,"f3":0.0044},
{"f":8.7,"f1":0.0031,"f2":0.0046,"f3":0.0035},
{"f":8.8,"f1":0.0038,"f2":0.0034,"f3":0.0028},
{"f":8.9,"f1":0.0026,"f2":0.0041,"f3":0.0048},
{"f":9,"f1":0.0045,"f2":0.0036,"f3":0.0039},
{"f":9.1,"f1":0.0034,"f2":0.0049,"f3":0.0028},
{"f":9.2,"f1":0.0051,"f2":0.0039,"f3":0.0046},
{"f":9.3,"f1":0.0039,"f2":0.0056,"f3":0.0033},
{"f":9.4,"f1":0.0072,"f2":0.0045,"f3":0.0052},
{"f":9.5,"f1":0.0048,"f2":0.0063,"f3":0.004},
{"f":9.6,"f1":0.006,"f2":0.005,"f3":0.0049},
{"f":9.7,"f1":0.0042,"f2":0.0041,"f3":0.0036},
{"f":9.8,"f1":0.0053,"f2":0.0058,"f3":0.0055},
{"f":9.9,"f1":0.0064,"f2":0.0047,"f3":0.0043},
{"f":10,"f1":0.0074,"f2":0.0052,"f3":0.0034},
{"f":10.1,"f1":0.0086,"f2":0.0041,"f3":0.0056},
{"f":10.2,"f1":0.0071,"f2":0.0063,"f3":0.0042},
{"f":10.3,"f1":0.0098,"f2":0.0035,"f3":0.006},
{"f":10.4,"f1":0.0104,"f2":0.0049,"f3":0.0037},
{"f":10.5,"f1":0.0088,"f2":0.0026,"f3":0.0051},
{"f":10.6,"f1":0.0096,"f2":0.0038,"f3":0.0044},
{"f":10.7,"f1":0.0078,"f2":0.0047,"f3":0.003},
{"f":10.8,"f1":0.0092,"f2":0.0033,"f3":0.0048},
{"f":10.9,"f1":0.0085,"f2":0.0055,"f3":0.0029},
{"f":11,"f1":0.007,"f2":0.0041,"f3":0.0045},
{"f":11.1,"f1":0.0086,"f2":0.003,"f3":0.0032},
{"f":11.2,"f1":0.0062,"f2":0.0003,"f3":0.0049},
{"f":11.3,"f1":0.0045,"f2":0.0024,"f3":0.0036},
{"f":11.4,"f1":0.0058,"f2":0.0037,"f3":0.0015},
{"f":11.5,"f1":0.0039,"f2":0.0052,"f3":0.003},
{"f":11.6,"f1":0.005,"f2":0.004,"f3":0.0043},
{"f":11.7,"f1":0.0063,"f2":0.0061,"f3":0.0031},
{"f":11.8,"f1":0.0046,"f2":0.0048,"f3":0.0054},
{"f":11.9,"f1":0.0069,"f2":0.0066,"f3":0.0042},
{"f":12,"f1":0.0052,"f2":0.0054,"f3":0.0065},
{"f":12.1,"f1":0.0068,"f2":0.007,"f3":0.005},
{"f":12.2,"f1":0.0049,"f2":0.0057,"f3":0.0078},
{"f":12.3,"f1":0.0073,"f2":0.0082,"f3":0.0095},
{"f":12.4,"f1":0.0055,"f2":0.0064,"f3":0.0082},
{"f":12.5,"f1":0.008,"f2":0.0076,"f3":0.012},
{"f":12.6,"f1":0.0061,"f2":0.0059,"f3":0.0094},
{"f":12.7,"f1":0.005,"f2":0.0071,"f3":0.0106},
{"f":12.8,"f1":0.0067,"f2":0.006,"f3":0.0088},
{"f":12.9,"f1":0.0054,"f2":0.0053,"f3":0.0111},
{"f":13,"f1":0.0062,"f2":0.0047,"f3":0.0087},
{"f":13.1,"f1":0.0048,"f2":0.0063,"f3":0.01},
{"f":13.2,"f1":0.007,"f2":0.0051,"f3":0.0076},
{"f":13.3,"f1":0.0053,"f2":0.0072,"f3":0.0092},
{"f":13.4,"f1":0.0066,"f2":0.0056,"f3":0.0069},
{"f":13.5,"f1":0.0044,"f2":0.0081,"f3":0.0084},
{"f":13.6,"f1":0.0058,"f2":0.006,"f3":0.0073},
{"f":13.7,"f1":0.0041,"f2":0.0074,"f3":0.0091},
{"f":13.8,"f1":0.0069,"f2":0.0052,"f3":0.0065},
{"f":13.9,"f1":0.0055,"f2":0.0066,"f3":0.0077},
{"f":14,"f1":0.0046,"f2":0.0073,"f3":0.006},
{"f":14.1,"f1":0.0061,"f2":0.0058,"f3":0.0074},
{"f":14.2,"f1":0.0039,"f2":0.008,"f3":0.0053},
{"f":14.3,"f1":0.0054,"f2":0.0064,"f3":0.0086},
{"f":14.4,"f1":0.0032,"f2":0.009,"f3":0.0065},
{"f":14.5,"f1":0.0048,"f2":0.0069,"f3":0.0079},
{"f":14.6,"f1":0.0036,"f2":0.0055,"f3":0.0058},
{"f":14.7,"f1":0.0002,"f2":0.0076,"f3":0.0042},
{"f":14.8,"f1":0.0035,"f2":0.0062,"f3":0.0068},
{"f":14.9,"f1":0.005,"f2":0.0089,"f3":0.0051},
{"f":15,"f1":0.0064,"f2":0.0105,"f3":0.0046},
{"f":15.1,"f1":0.0047,"f2":0.0079,"f3":0.0069},
{"f":15.2,"f1":0.0078,"f2":0.0118,"f3":0.0057},
{"f":15.3,"f1":0.0059,"f2":0.0093,"f3":0.0082},
{"f":15.4,"f1":0.0092,"f2":0.0142,"f3":0.0066},
{"f":15.5,"f1":0.0068,"f2":0.0106,"f3":0.0094},
{"f":15.6,"f1":0.0081,"f2":0.0124,"f3":0.0075},
{"f":15.7,"f1":0.007,"f2":0.0098,"f3":0.0102},
{"f":15.8,"f1":0.0096,"f2":0.0133,"f3":0.0085},
{"f":15.9,"f1":0.0083,"f2":0.011,"f3":0.0126},
{"f":16,"f1":0.0102,"f2":0.015,"f3":0.0108},
{"f":16.1,"f1":0.0085,"f2":0.0175,"f3":0.013},
{"f":16.2,"f1":0.0114,"f2":0.0187,"f3":0.0116},
{"f":16.3,"f1":0.009,"f2":0.014,"f3":0.0128},
{"f":16.4,"f1":0.0073,"f2":0.0161,"f3":0.0095},
{"f":16.5,"f1":0.0098,"f2":0.0122,"f3":0.011},
{"f":16.6,"f1":0.0064,"f2":0.0115,"f3":0.0082},
{"f":16.7,"f1":0.008,"f2":0.0096,"f3":0.0094},
{"f":16.8,"f1":0.0056,"f2":0.0108,"f3":0.0071},
{"f":16.9,"f1":0.0072,"f2":0.0084,"f3":0.0086},
{"f":17,"f1":0.0048,"f2":0.007,"f3":0.0062},
{"f":17.1,"f1":0.0066,"f2":0.0091,"f3":0.0078},
{"f":17.2,"f1":0.0041,"f2":0.0062,"f3":0.0054},
{"f":17.3,"f1":0.0057,"f2":0.008,"f3":0.0069},
{"f":17.4,"f1":0.0035,"f2":0.0054,"f3":0.0047},
{"f":17.5,"f1":0.005,"f2":0.0073,"f3":0.0061},
{"f":17.6,"f1":0.003,"f2":0.0046,"f3":0.0039},
{"f":17.7,"f1":0.0044,"f2":0.0065,"f3":0.0056},
{"f":17.8,"f1":0.0027,"f2":0.0039,"f3":0.0034},
{"f":17.9,"f1":0.0049,"f2":0.0058,"f3":0.0049},
{"f":18,"f1":0.0038,"f2":0.0048,"f3":0.004},
{"f":18.1,"f1":0.0054,"f2":0.0066,"f3":0.0056},
{"f":18.2,"f1":0.0031,"f2":0.004,"f3":0.0035},
{"f":18.3,"f1":0.0046,"f2":0.0057,"f3":0.0049},
{"f":18.4,"f1":0.0026,"f2":0.0035,"f3":0.0028},
{"f":18.5,"f1":0.004,"f2":0.0064,"f3":0.0044},
{"f":18.6,"f1":0.0022,"f2":0.0038,"f3":0.0033},
{"f":18.7,"f1":0.0036,"f2":0.0051,"f3":0.0052},
{"f":18.8,"f1":0.0029,"f2":0.0032,"f3":0.0026},
{"f":18.9,"f1":0.0043,"f2":0.006,"f3":0.0045},
{"f":19,"f1":0.0035,"f2":0.0053,"f3":0.0038},
{"f":19.1,"f1":0.0049,"f2":0.0075,"f3":0.0054},
{"f":19.2,"f1":0.0029,"f2":0.0089,"f3":0.0031},
{"f":19.3,"f1":0.0042,"f2":0.0128,"f3":0.0046},
{"f":19.4,"f1":0.0032,"f2":0.008,"f3":0.0029},
{"f":19.5,"f1":0.0051,"f2":0.0061,"f3":0.0041},
{"f":19.6,"f1":0.0036,"f2":0.0072,"f3":0.0024},
{"f":19.7,"f1":0.0046,"f2":0.0049,"f3":0.0036},
{"f":19.8,"f1":0.0027,"f2":0.006,"f3":0.0028},
{"f":19.9,"f1":0.0039,"f2":0.0042,"f3":0.0043},
{"f":20,"f1":0.0024,"f2":0.0055,"f3":0.0034},
{"f":20.1,"f1":0.0038,"f2":0.0038,"f3":0.0025},
{"f":20.2,"f1":0.002,"f2":0.0047,"f3":0.0039},
{"f":20.3,"f1":0.0033,"f2":0.003,"f3":0.0022},
{"f":20.4,"f1":0.0017,"f2":0.0042,"f3":0.0033},
{"f":20.5,"f1":0.0029,"f2":0.0059,"f3":0.0019},
{"f":20.6,"f1":0.0023,"f2":0.0045,"f3":0.003},
{"f":20.7,"f1":0.0035,"f2":0.0088,"f3":0.0024},
{"f":20.8,"f1":0.0021,"f2":0.0062,"f3":0.0036},
{"f":20.9,"f1":0.0031,"f2":0.0044,"f3":0.002},
{"f":21,"f1":0.0018,"f2":0.0036,"f3":0.0028},
{"f":21.1,"f1":0.0029,"f2":0.0024,"f3":0.0017},
{"f":21.2,"f1":0.0015,"f2":0.0039,"f3":0.0031},
{"f":21.3,"f1":0.0025,"f2":0.0028,"f3":0.002},
{"f":21.4,"f1":0.0013,"f2":0.0033,"f3":0.0025},
{"f":21.5,"f1":0.0027,"f2":0.0021,"f3":0.0014},
{"f":21.6,"f1":0.0016,"f2":0.003,"f3":0.0022},
{"f":21.7,"f1":0.0023,"f2":0.0017,"f3":0.0012},
{"f":21.8,"f1":0.0011,"f2":0.0026,"f3":0.0019},
{"f":21.9,"f1":0.002,"f2":0.0015,"f3":0.001},
{"f":22,"f1":0.0016,"f2":0.0022,"f3":0.0015},
{"f":22.1,"f1":0.0007,"f2":0.0013,"f3":0.0023},
{"f":22.2,"f1":0.0019,"f2":0.0019,"f3":0.0009},
{"f":22.3,"f1":0.0011,"f2":0.0008,"f3":0.0017},
{"f":22.4,"f1":0.0014,"f2":0.0024,"f3":0.0012},
{"f":22.5,"f1":0.0006,"f2":0.0015,"f3":0.0006},
{"f":22.6,"f1":0.0012,"f2":0.001,"f3":0.0014},
{"f":22.7,"f1":0.0009,"f2":0.0018,"f3":0.0008},
{"f":22.8,"f1":0.0015,"f2":0.0007,"f3":0.0011},
{"f":22.9,"f1":0.0005,"f2":0.0013,"f3":0.0016},
{"f":23,"f1":0.001,"f2":0.0012,"f3":0.0007},
{"f":23.1,"f1":0.0004,"f2":0.0006,"f3":0.0012},
{"f":23.2,"f1":0.0013,"f2":0.0015,"f3":0.0005},
{"f":23.3,"f1":0.0007,"f2":0.0009,"f3":0.001},
{"f":23.4,"f1":0.0011,"f2":0.0005,"f3":0.0008},
{"f":23.5,"f1":0.0005,"f2":0.0013,"f3":0.0016},
{"f":23.6,"f1":0.0009,"f2":0.0008,"f3":0.0006},
{"f":23.7,"f1":0.0014,"f2":0.0011,"f3":0.0011},
{"f":23.8,"f1":0.0006,"f2":0.0004,"f3":0.0009},
{"f":23.9,"f1":0.001,"f2":0.0009,"f3":0.0005},
{"f":24,"f1":0.0008,"f2":0.0006,"f3":0.001},
{"f":24.1,"f1":0.0012,"f2":0.0011,"f3":0.0005},
{"f":24.2,"f1":0.0005,"f2":0.0004,"f3":0.0008},
{"f":24.3,"f1":0.001,"f2":0.0009,"f3":0.0006},
{"f":24.4,"f1":0.0018,"f2":0.0005,"f3":0.0013},
{"f":24.5,"f1":0.0007,"f2":0.0012,"f3":0.0004},
{"f":24.6,"f1":0.0011,"f2":0.0007,"f3":0.0009},
{"f":24.7,"f1":0.0004,"f2":0.0003,"f3":0.0007},
{"f":24.8,"f1":0.0009,"f2":0.0008,"f3":0.0005},
{"f":24.9,"f1":0.0006,"f2":0.0005,"f3":0.001},
{"f":25,"f1":0.0008,"f2":0.0006,"f3":0.0004}
]
},
"vconcat":[
{"width":597,"height":34,"title":{"text":"ACCELERATION (g)","fontSize":10.8,"frame":"group","anchor":"middle","dx":-10,"offset":-2},"layer":[
{"data":{"name":"seis"},"mark":{"type":"line","strokeWidth":0.8},"encoding":{"x":{"field":"t","type":"quantitative","scale":{"domain":[21.05,40.95],"nice":false,"zero":false},"axis":null},"y":{"field":"a1","type":"quantitative","scale":{"domain":[-0.004,0.004],"nice":false,"zero":false},"axis":{"orient":"left","values":[-0.004,-0.002,0,0.002,0.004],"tickSize":-4,"labelPadding":13,"labelFontSize":8,"labelExpr":"datum.value==0?'0':datum.value==0.004?'.004':datum.value==-0.004?'-.004':''","title":"(g)","titleFontSize":6.5,"titleAngle":-90,"titleX":-50,"titleY":54,"titleAlign":"center","titleBaseline":"middle"}}}},
{"data":{"values":[{}]},"mark":{"type":"rule","strokeWidth":1},"encoding":{"x":{"datum":21.05,"axis":null},"x2":{"datum":21.38},"y":{"datum":0.004,"axis":{"orient":"right","values":[-0.004,-0.002,0,0.002,0.004],"tickSize":-4,"labels":false,"title":null}}}},
{"data":{"values":[{}]},"mark":{"type":"text","align":"left","baseline":"middle","fontSize":8},"encoding":{"x":{"datum":21.43,"axis":null},"y":{"datum":0.0037,"axis":null},"text":{"value":"Chn 1: 90 Deg"}}},
{"data":{"values":[{}]},"mark":{"type":"text","align":"right","baseline":"middle","fontSize":8},"encoding":{"x":{"datum":40.45,"axis":null},"y":{"datum":0.0025,"axis":null},"text":{"value":"Max =\u00a0\u00a0\u00a0-.0034\u00a0\u00a0\u00a0g"}}}
],"resolve":{"axis":{"x":"independent","y":"independent"}}},
{"width":597,"height":34,"layer":[
{"data":{"name":"seis"},"mark":{"type":"line","strokeWidth":0.8},"encoding":{"x":{"field":"t","type":"quantitative","scale":{"domain":[21.05,40.95],"nice":false,"zero":false},"axis":null},"y":{"field":"a2","type":"quantitative","scale":{"domain":[-0.004,0.004],"nice":false,"zero":false},"axis":{"orient":"left","values":[-0.004,-0.002,0,0.002,0.004],"tickSize":-4,"labelPadding":13,"labelFontSize":8,"labelExpr":"datum.value==0?'0':datum.value==0.004?'.004':datum.value==-0.004?'-.004':''","title":"ACCELERATION","titleFontSize":10.5,"titleAngle":-90,"titleX":-70,"titleY":0,"titleAlign":"center","titleBaseline":"middle"}}}},
{"data":{"values":[{}]},"mark":{"type":"rule","strokeWidth":1},"encoding":{"x":{"datum":21.05,"axis":null},"x2":{"datum":21.38},"y":{"datum":0.004,"axis":{"orient":"right","values":[-0.004,-0.002,0,0.002,0.004],"tickSize":-4,"labels":false,"title":null}}}},
{"data":{"values":[{}]},"mark":{"type":"text","align":"left","baseline":"middle","fontSize":8},"encoding":{"x":{"datum":21.43,"axis":null},"y":{"datum":0.0037,"axis":null},"text":{"value":"Chn 2: 360 Deg"}}},
{"data":{"values":[{}]},"mark":{"type":"text","align":"right","baseline":"middle","fontSize":8},"encoding":{"x":{"datum":40.45,"axis":null},"y":{"datum":0.0025,"axis":null},"text":{"value":"-.0068\u00a0\u00a0\u00a0g"}}}
],"resolve":{"axis":{"x":"independent","y":"independent"}}},
{"width":597,"height":34,"layer":[
{"data":{"name":"seis"},"mark":{"type":"line","strokeWidth":0.8},"encoding":{"x":{"field":"t","type":"quantitative","scale":{"domain":[21.05,40.95],"nice":false,"zero":false},"axis":{"orient":"bottom","values":[22,23,24,25,26,27,28,29,30,31,32,33,34,35,36,37,38,39,40],"tickSize":-4,"labels":false,"title":null}},"y":{"field":"a3","type":"quantitative","scale":{"domain":[-0.004,0.004],"nice":false,"zero":false},"axis":{"orient":"left","values":[-0.004,-0.002,0,0.002,0.004],"tickSize":-4,"labelPadding":13,"labelFontSize":8,"labelExpr":"datum.value==0?'0':datum.value==0.004?'.004':datum.value==-0.004?'-.004':''","title":null}}}},
{"data":{"values":[{}]},"mark":{"type":"rule","strokeWidth":1},"encoding":{"x":{"datum":21.05,"axis":null},"x2":{"datum":21.38},"y":{"datum":0.004,"axis":{"orient":"right","values":[-0.004,-0.002,0,0.002,0.004],"tickSize":-4,"labels":false,"title":null}}}},
{"data":{"values":[{}]},"mark":{"type":"text","align":"left","baseline":"middle","fontSize":8},"encoding":{"x":{"datum":21.43,"axis":null},"y":{"datum":0.0037,"axis":null},"text":{"value":"Chn 3: Up"}}},
{"data":{"values":[{}]},"mark":{"type":"text","align":"right","baseline":"middle","fontSize":8},"encoding":{"x":{"datum":40.45,"axis":null},"y":{"datum":0.0025,"axis":null},"text":{"value":".0051\u00a0\u00a0\u00a0g"}}}
],"resolve":{"axis":{"x":"independent","y":"independent"}}},
{"width":597,"height":40.5,"data":{"values":[]},"mark":"point"},
{"width":597,"height":34,"title":{"text":"VELOCITY (cm/sec)","fontSize":10.8,"frame":"group","anchor":"middle","dx":-13,"offset":-2},"layer":[
{"data":{"name":"seis"},"mark":{"type":"line","strokeWidth":0.8},"encoding":{"x":{"field":"t","type":"quantitative","scale":{"domain":[21.05,40.95],"nice":false,"zero":false},"axis":null},"y":{"field":"v1","type":"quantitative","scale":{"domain":[-0.06,0.06],"nice":false,"zero":false},"axis":{"orient":"left","values":[-0.06,-0.03,0,0.03,0.06],"tickSize":-4,"labelPadding":13,"labelFontSize":8,"labelExpr":"datum.value==0?'0':datum.value==0.06?'.06':datum.value==-0.06?'-.06':''","title":"(cm/sec)","titleFontSize":6.5,"titleAngle":-90,"titleX":-50,"titleY":40,"titleAlign":"center","titleBaseline":"middle"}}}},
{"data":{"values":[{}]},"mark":{"type":"rule","strokeWidth":1},"encoding":{"x":{"datum":21.05,"axis":null},"x2":{"datum":21.38},"y":{"datum":0.06,"axis":{"orient":"right","values":[-0.06,-0.03,0,0.03,0.06],"tickSize":-4,"labels":false,"title":null}}}},
{"data":{"values":[{}]},"mark":{"type":"text","align":"left","baseline":"middle","fontSize":8},"encoding":{"x":{"datum":21.43,"axis":null},"y":{"datum":0.055,"axis":null},"text":{"value":"Chn 1: 90 Deg"}}},
{"data":{"values":[{}]},"mark":{"type":"text","align":"right","baseline":"middle","fontSize":8},"encoding":{"x":{"datum":40.22,"axis":null},"y":{"datum":0.04,"axis":null},"text":{"value":".048\u00a0\u00a0\u00a0cm/sec"}}}
],"resolve":{"axis":{"x":"independent","y":"independent"}}},
{"width":597,"height":34,"layer":[
{"data":{"name":"seis"},"mark":{"type":"line","strokeWidth":0.8},"encoding":{"x":{"field":"t","type":"quantitative","scale":{"domain":[21.05,40.95],"nice":false,"zero":false},"axis":null},"y":{"field":"v2","type":"quantitative","scale":{"domain":[-0.06,0.06],"nice":false,"zero":false},"axis":{"orient":"left","values":[-0.06,-0.03,0,0.03,0.06],"tickSize":-4,"labelPadding":13,"labelFontSize":8,"labelExpr":"datum.value==0?'0':datum.value==0.06?'.06':datum.value==-0.06?'-.06':''","title":"VELOCITY","titleFontSize":10.5,"titleAngle":-90,"titleX":-70,"titleY":4.5,"titleAlign":"center","titleBaseline":"middle"}}}},
{"data":{"values":[{}]},"mark":{"type":"rule","strokeWidth":1},"encoding":{"x":{"datum":21.05,"axis":null},"x2":{"datum":21.38},"y":{"datum":0.06,"axis":{"orient":"right","values":[-0.06,-0.03,0,0.03,0.06],"tickSize":-4,"labels":false,"title":null}}}},
{"data":{"values":[{}]},"mark":{"type":"text","align":"left","baseline":"middle","fontSize":8},"encoding":{"x":{"datum":21.43,"axis":null},"y":{"datum":0.055,"axis":null},"text":{"value":"Chn 2: 360 Deg"}}},
{"data":{"values":[{}]},"mark":{"type":"text","align":"right","baseline":"middle","fontSize":8},"encoding":{"x":{"datum":40.22,"axis":null},"y":{"datum":0.04,"axis":null},"text":{"value":"-.096\u00a0\u00a0\u00a0cm/sec"}}}
],"resolve":{"axis":{"x":"independent","y":"independent"}}},
{"width":597,"height":34,"layer":[
{"data":{"name":"seis"},"mark":{"type":"line","strokeWidth":0.8},"encoding":{"x":{"field":"t","type":"quantitative","scale":{"domain":[21.05,40.95],"nice":false,"zero":false},"axis":{"orient":"bottom","values":[22,23,24,25,26,27,28,29,30,31,32,33,34,35,36,37,38,39,40],"tickSize":-4,"labels":false,"title":null}},"y":{"field":"v3","type":"quantitative","scale":{"domain":[-0.06,0.06],"nice":false,"zero":false},"axis":{"orient":"left","values":[-0.06,-0.03,0,0.03,0.06],"tickSize":-4,"labelPadding":13,"labelFontSize":8,"labelExpr":"datum.value==0?'0':datum.value==0.06?'.06':datum.value==-0.06?'-.06':''","title":null}}}},
{"data":{"values":[{}]},"mark":{"type":"rule","strokeWidth":1},"encoding":{"x":{"datum":21.05,"axis":null},"x2":{"datum":21.38},"y":{"datum":0.06,"axis":{"orient":"right","values":[-0.06,-0.03,0,0.03,0.06],"tickSize":-4,"labels":false,"title":null}}}},
{"data":{"values":[{}]},"mark":{"type":"text","align":"left","baseline":"middle","fontSize":8},"encoding":{"x":{"datum":21.43,"axis":null},"y":{"datum":0.055,"axis":null},"text":{"value":"Chn 3: Up"}}},
{"data":{"values":[{}]},"mark":{"type":"text","align":"right","baseline":"middle","fontSize":8},"encoding":{"x":{"datum":40.22,"axis":null},"y":{"datum":0.04,"axis":null},"text":{"value":".076\u00a0\u00a0\u00a0cm/sec"}}}
],"resolve":{"axis":{"x":"independent","y":"independent"}}},
{"width":597,"height":40.5,"data":{"values":[]},"mark":"point"},
{"width":597,"height":34,"title":{"text":"DISPLACEMENT (cm)","fontSize":10.8,"frame":"group","anchor":"middle","dx":-14,"offset":-2},"layer":[
{"data":{"name":"seis"},"mark":{"type":"line","strokeWidth":0.8},"encoding":{"x":{"field":"t","type":"quantitative","scale":{"domain":[21.05,40.95],"nice":false,"zero":false},"axis":null},"y":{"field":"d1","type":"quantitative","scale":{"domain":[-0.001,0.001],"nice":false,"zero":false},"axis":{"orient":"left","values":[-0.001,-0.0005,0,0.0005,0.001],"tickSize":-4,"labelPadding":13,"labelFontSize":8,"labelExpr":"datum.value==0?'0':datum.value==0.001?'.0010':datum.value==-0.001?'-.0010':''","title":"(cm)","titleFontSize":6.5,"titleAngle":-90,"titleX":-50,"titleY":51.5,"titleAlign":"center","titleBaseline":"middle"}}}},
{"data":{"values":[{}]},"mark":{"type":"rule","strokeWidth":1},"encoding":{"x":{"datum":21.05,"axis":null},"x2":{"datum":21.38},"y":{"datum":0.001,"axis":{"orient":"right","values":[-0.001,-0.0005,0,0.0005,0.001],"tickSize":-4,"labels":false,"title":null}}}},
{"data":{"values":[{}]},"mark":{"type":"text","align":"left","baseline":"middle","fontSize":8},"encoding":{"x":{"datum":21.43,"axis":null},"y":{"datum":0.00092,"axis":null},"text":{"value":"Chn 1: 90 Deg"}}},
{"data":{"values":[{}]},"mark":{"type":"text","align":"right","baseline":"middle","fontSize":8},"encoding":{"x":{"datum":40.38,"axis":null},"y":{"datum":0.00055,"axis":null},"text":{"value":".00126\u00a0\u00a0\u00a0\u00a0cm"}}}
],"resolve":{"axis":{"x":"independent","y":"independent"}}},
{"width":597,"height":34,"layer":[
{"data":{"name":"seis"},"mark":{"type":"line","strokeWidth":0.8},"encoding":{"x":{"field":"t","type":"quantitative","scale":{"domain":[21.05,40.95],"nice":false,"zero":false},"axis":null},"y":{"field":"d2","type":"quantitative","scale":{"domain":[-0.001,0.001],"nice":false,"zero":false},"axis":{"orient":"left","values":[-0.001,-0.0005,0,0.0005,0.001],"tickSize":-4,"labelPadding":13,"labelFontSize":8,"labelExpr":"datum.value==0?'0':datum.value==0.001?'.0010':datum.value==-0.001?'-.0010':''","title":"DISPLACEMENT","titleFontSize":10.5,"titleAngle":-90,"titleX":-70,"titleY":1.5,"titleAlign":"center","titleBaseline":"middle"}}}},
{"data":{"values":[{}]},"mark":{"type":"rule","strokeWidth":1},"encoding":{"x":{"datum":21.05,"axis":null},"x2":{"datum":21.38},"y":{"datum":0.001,"axis":{"orient":"right","values":[-0.001,-0.0005,0,0.0005,0.001],"tickSize":-4,"labels":false,"title":null}}}},
{"data":{"values":[{}]},"mark":{"type":"text","align":"left","baseline":"middle","fontSize":8},"encoding":{"x":{"datum":21.43,"axis":null},"y":{"datum":0.00092,"axis":null},"text":{"value":"Chn 2: 360 Deg"}}},
{"data":{"values":[{}]},"mark":{"type":"text","align":"right","baseline":"middle","fontSize":8},"encoding":{"x":{"datum":40.38,"axis":null},"y":{"datum":0.00055,"axis":null},"text":{"value":".00132\u00a0\u00a0\u00a0\u00a0cm"}}}
],"resolve":{"axis":{"x":"independent","y":"independent"}}},
{"width":597,"height":34,"layer":[
{"data":{"name":"seis"},"mark":{"type":"line","strokeWidth":0.8},"encoding":{"x":{"field":"t","type":"quantitative","scale":{"domain":[21.05,40.95],"nice":false,"zero":false},"axis":{"orient":"bottom","values":[22,23,24,25,26,27,28,29,30,31,32,33,34,35,36,37,38,39,40],"tickSize":-4,"labelPadding":5,"labelFontSize":10,"labelExpr":"datum.value%2==0?datum.label:''","title":"Time (sec)","titleFontSize":9.5,"titleX":282,"titleY":15,"titleBaseline":"middle"}},"y":{"field":"d3","type":"quantitative","scale":{"domain":[-0.001,0.001],"nice":false,"zero":false},"axis":{"orient":"left","values":[-0.001,-0.0005,0,0.0005,0.001],"tickSize":-4,"labelPadding":13,"labelFontSize":8,"labelExpr":"datum.value==0?'0':datum.value==0.001?'.0010':datum.value==-0.001?'-.0010':''","title":null}}}},
{"data":{"values":[{}]},"mark":{"type":"rule","strokeWidth":1},"encoding":{"x":{"datum":21.05,"axis":null},"x2":{"datum":21.38},"y":{"datum":0.001,"axis":{"orient":"right","values":[-0.001,-0.0005,0,0.0005,0.001],"tickSize":-4,"labels":false,"title":null}}}},
{"data":{"values":[{}]},"mark":{"type":"text","align":"left","baseline":"middle","fontSize":8},"encoding":{"x":{"datum":21.43,"axis":null},"y":{"datum":0.00092,"axis":null},"text":{"value":"Chn 3: Up"}}},
{"data":{"values":[{}]},"mark":{"type":"text","align":"right","baseline":"middle","fontSize":8},"encoding":{"x":{"datum":40.38,"axis":null},"y":{"datum":0.00055,"axis":null},"text":{"value":".00168\u00a0\u00a0\u00a0\u00a0cm"}}},
{"data":{"values":[{}]},"mark":{"type":"text","align":"left","baseline":"middle","fontSize":7.5},"encoding":{"x":{"datum":21.25,"axis":null},"y":{"datum":-0.00194,"axis":null},"text":{"value":"37911423.CI.SSS.--.HN 04/09/18 01:09:38"}}},
{"data":{"values":[{}]},"mark":{"type":"text","align":"left","baseline":"middle","fontSize":8},"encoding":{"x":{"datum":33.92,"axis":null},"y":{"datum":-0.00194,"axis":null},"text":{"value":"CISSS--B\u00a0\u00a0S_L_C_\u00a0\u00a0v**.18.68.86R PC89"}}}
],"resolve":{"axis":{"x":"independent","y":"independent"}}},
{"width":597,"height":105,"data":{"values":[]},"mark":"point"},
{"width":616,"height":165,"view":{"stroke":"black","strokeWidth":1},
"title":{"text":"SPECTRAL ACCELERATION, Sa","fontSize":12.5,"frame":"group","anchor":"middle","dx":-23,"offset":3},
"layer":[
{"data":{"name":"sa"},"mark":{"type":"line","strokeWidth":0.9},"encoding":{"x":{"field":"p","type":"quantitative","scale":{"domain":[0,3],"nice":false,"zero":false},"axis":{"orient":"bottom","values":[0,0.25,0.5,0.75,1,1.25,1.5,1.75,2,2.25,2.5,2.75,3],"tickSize":-4,"labelPadding":6,"labelFontSize":10.5,"labelExpr":"datum.value==0?'0':datum.value==0.5?'.5':(datum.value*2)%1==0?format(datum.value,'.1f'):''","title":"Period (sec)","titleFontSize":11.5,"titleX":285,"titleY":17,"titleBaseline":"middle"}},"y":{"field":"c1","type":"quantitative","scale":{"domain":[0,0.03],"nice":false,"zero":false},"axis":{"orient":"left","values":[0,0.005,0.01,0.015,0.02,0.025,0.03],"tickSize":-4,"labelPadding":14,"labelFontSize":10.5,"labelExpr":"datum.value==0?'0':round(datum.value*1000)%10==0?replace(format(datum.value,'.2f'),'0.','.'):''","title":"Sa (g)","titleFontSize":12,"titleAngle":-90,"titleX":-45,"titleY":82,"titleAlign":"center","titleBaseline":"middle"}}}},
{"data":{"name":"sa"},"mark":{"type":"line","strokeWidth":0.9,"strokeDash":[10,4]},"encoding":{"x":{"field":"p","type":"quantitative","axis":null},"y":{"field":"c2","type":"quantitative","axis":null}}},
{"data":{"name":"sa"},"mark":{"type":"line","strokeWidth":0.9,"strokeDash":[7,2,2,2]},"encoding":{"x":{"field":"p","type":"quantitative","axis":null},"y":{"field":"c3","type":"quantitative","axis":null}}},
{"data":{"values":[{}]},"mark":{"type":"text","align":"center","baseline":"middle","fontSize":10.5},"encoding":{"x":{"datum":2.58,"axis":{"orient":"top","values":[0,0.25,0.5,0.75,1,1.25,1.5,1.75,2,2.25,2.5,2.75,3],"tickSize":-4,"labels":false,"title":null}},"y":{"datum":0.0276,"axis":{"orient":"right","values":[0,0.005,0.01,0.015,0.02,0.025,0.03],"tickSize":-4,"labels":false,"title":null}},"text":{"value":"(5% damping)"}}},
{"data":{"values":[{}]},"mark":{"type":"rule","strokeWidth":1},"encoding":{"x":{"datum":1.208,"axis":null},"x2":{"datum":1.5},"y":{"datum":0.026,"axis":null}}},
{"data":{"values":[{}]},"mark":{"type":"rule","strokeWidth":1,"strokeDash":[10,4]},"encoding":{"x":{"datum":1.208,"axis":null},"x2":{"datum":1.5},"y":{"datum":0.02455,"axis":null}}},
{"data":{"values":[{}]},"mark":{"type":"rule","strokeWidth":1,"strokeDash":[7,2,2,2]},"encoding":{"x":{"datum":1.208,"axis":null},"x2":{"datum":1.5},"y":{"datum":0.0229,"axis":null}}},
{"data":{"values":[{}]},"mark":{"type":"rule","strokeWidth":2,"color":"#555555"},"encoding":{"x":{"datum":1.208,"axis":null},"x2":{"datum":1.5},"y":{"datum":0.02145,"axis":null}}},
{"data":{"values":[{}]},"mark":{"type":"text","align":"left","baseline":"middle","fontSize":8.5},"encoding":{"x":{"datum":1.55,"axis":null},"y":{"datum":0.026,"axis":null},"text":{"value":"Chn 1: 90 Deg"}}},
{"data":{"values":[{}]},"mark":{"type":"text","align":"left","baseline":"middle","fontSize":8.5},"encoding":{"x":{"datum":1.55,"axis":null},"y":{"datum":0.02455,"axis":null},"text":{"value":"Chn 2: 360 Deg"}}},
{"data":{"values":[{}]},"mark":{"type":"text","align":"left","baseline":"middle","fontSize":8.5},"encoding":{"x":{"datum":1.55,"axis":null},"y":{"datum":0.0229,"axis":null},"text":{"value":"Chn 3: Up"}}},
{"data":{"values":[{}]},"mark":{"type":"text","align":"left","baseline":"middle","fontSize":8.5},"encoding":{"x":{"datum":1.55,"axis":null},"y":{"datum":0.02145,"axis":null},"text":{"value":"Ref: 1991 Base Shear (S2,I1,Zone4,Rw1&4)"}}}
],"resolve":{"axis":{"x":"independent","y":"independent"}}},
{"width":597,"height":77,"data":{"values":[]},"mark":"point"},
{"width":612,"height":171,"view":{"stroke":"black","strokeWidth":1},
"title":{"text":"VELOCITY FOURIER SPECTRUM","fontSize":12.5,"frame":"group","anchor":"middle","dx":-23,"offset":-2},
"layer":[
{"data":{"name":"fs"},"mark":{"type":"line","strokeWidth":0.9},"encoding":{"x":{"field":"f","type":"quantitative","scale":{"domain":[0,25],"nice":false,"zero":false},"axis":{"orient":"bottom","values":[0,2,4,6,8,10,12,14,16,18,20,22,24],"tickSize":-4,"labelPadding":6,"labelFontSize":10.5,"labelExpr":"datum.value%4==0?datum.label:''","title":"Frequency (Hz)","titleFontSize":11,"titleX":293,"titleY":18,"titleBaseline":"middle"}},"y":{"field":"f1","type":"quantitative","scale":{"domain":[0,0.03],"nice":false,"zero":false},"axis":{"orient":"left","values":[0,0.005,0.01,0.015,0.02,0.025,0.03],"tickSize":-4,"labelPadding":17,"labelFontSize":10.5,"labelExpr":"datum.value==0?'0':round(datum.value*1000)%10==0?replace(format(datum.value,'.3f'),'0.','.'):''","title":"V(f)\u00a0\u00a0\u00a0\u00a0cm/sec\u00a0-\u00a0sec","titleFontSize":11.5,"titleAngle":-90,"titleX":-48,"titleY":64,"titleAlign":"center","titleBaseline":"middle"}}}},
{"data":{"name":"fs"},"mark":{"type":"line","strokeWidth":0.9,"strokeDash":[10,4]},"encoding":{"x":{"field":"f","type":"quantitative","axis":null},"y":{"field":"f2","type":"quantitative","axis":null}}},
{"data":{"name":"fs"},"mark":{"type":"line","strokeWidth":0.9,"strokeDash":[7,2,2,2]},"encoding":{"x":{"field":"f","type":"quantitative","axis":null},"y":{"field":"f3","type":"quantitative","axis":null}}},
{"data":{"values":[{}]},"mark":{"type":"text","align":"left","baseline":"middle","fontSize":8},"encoding":{"x":{"datum":0.1,"axis":{"orient":"top","values":[0,2,4,6,8,10,12,14,16,18,20,22,24],"tickSize":-4,"labels":false,"title":null}},"y":{"datum":0.0307,"axis":{"orient":"right","values":[0,0.005,0.01,0.015,0.02,0.025,0.03],"tickSize":-4,"labels":false,"title":null}},"text":{"value":"fcHäw"}}},
{"data":{"values":[{}]},"mark":{"type":"rule","strokeWidth":1},"encoding":{"x":{"datum":10.09,"axis":null},"x2":{"datum":12.54},"y":{"datum":0.0265,"axis":null}}},
{"data":{"values":[{}]},"mark":{"type":"rule","strokeWidth":1,"strokeDash":[10,4]},"encoding":{"x":{"datum":10.09,"axis":null},"x2":{"datum":12.54},"y":{"datum":0.0251,"axis":null}}},
{"data":{"values":[{}]},"mark":{"type":"rule","strokeWidth":1,"strokeDash":[7,2,2,2]},"encoding":{"x":{"datum":10.09,"axis":null},"x2":{"datum":12.54},"y":{"datum":0.0237,"axis":null}}},
{"data":{"values":[{}]},"mark":{"type":"text","align":"left","baseline":"middle","fontSize":8.5},"encoding":{"x":{"datum":12.95,"axis":null},"y":{"datum":0.0265,"axis":null},"text":{"value":"Chn 1: 90 Deg"}}},
{"data":{"values":[{}]},"mark":{"type":"text","align":"left","baseline":"middle","fontSize":8.5},"encoding":{"x":{"datum":12.95,"axis":null},"y":{"datum":0.0251,"axis":null},"text":{"value":"Chn 2: 360 Deg"}}},
{"data":{"values":[{}]},"mark":{"type":"text","align":"left","baseline":"middle","fontSize":8.5},"encoding":{"x":{"datum":12.95,"axis":null},"y":{"datum":0.0237,"axis":null},"text":{"value":"Chn 3: Up"}}}
],"resolve":{"axis":{"x":"independent","y":"independent"}}}
],
"spacing":4.5,"bounds":"flush","center":true,
"config":{"font":"DejaVu Sans Mono","view":{"stroke":null},"axis":{"domainColor":"black","tickColor":"black","labelColor":"black","titleColor":"black","grid":false,"labelFont":"DejaVu Sans Mono","titleFont":"DejaVu Sans Mono","titleFontWeight":"normal","domainWidth":1,"tickWidth":1,"labelFlush":false,"labelOverlap":false},"title":{"font":"DejaVu Sans Mono","fontWeight":"normal","color":"black","subtitleFont":"DejaVu Sans Mono","subtitleColor":"black"},"line":{"color":"black"},"rule":{"color":"black"},"text":{"font":"DejaVu Sans Mono","color":"black"}}
}
